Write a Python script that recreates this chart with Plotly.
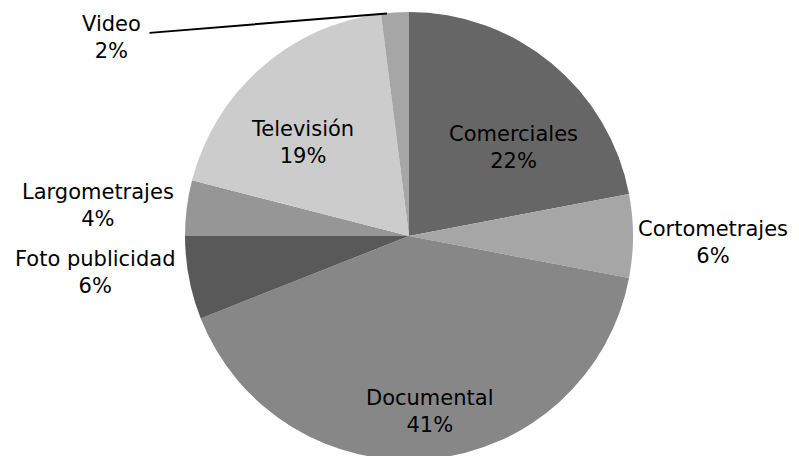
import math
import plotly.graph_objects as go

categories = ["Comerciales", "Cortometrajes", "Documental", "Foto publicidad",
              "Largometrajes", "Televisión", "Video"]
values = [22, 6, 41, 6, 4, 19, 2]
colors = ["#666666", "#a6a6a6", "#878787", "#595959", "#969696", "#cccccc", "#a6a6a6"]

W, H = 799, 456
OFF = 8  # page body margin: the figure is drawn 8px right/down in the window
# pie geometry in window pixels
cx, cy, r = 409, 236, 224

# label text positions (window pixels, centre of the text block)
label_pos = {
    "Comerciales": (513, 147),
    "Cortometrajes": (713, 242),
    "Documental": (430, 411),
    "Foto publicidad": (95, 272),
    "Largometrajes": (98, 205),
    "Televisión": (302, 142),
    "Video": (111, 38),
}


def fx(x):
    return (x - OFF) / W


def fy(y):
    return 1 - (y - OFF) / H


fig = go.Figure(go.Pie(
    labels=categories,
    values=values,
    marker=dict(colors=colors, line=dict(width=0)),
    sort=False,
    direction="clockwise",
    rotation=0,
    textinfo="none",
    hoverinfo="label+percent",
    showlegend=False,
    domain=dict(x=[fx(cx - r), fx(cx + r)], y=[fy(cy + r), fy(cy - r)]),
))

total = sum(values)
font = dict(family="DejaVu Sans", size=21, color="#000000")
for cat, v in zip(categories, values):
    px, py = label_pos[cat]
    pct = round(100 * v / total)
    fig.add_annotation(
        x=fx(px), y=fy(py), xref="paper", yref="paper",
        text=f"{cat}<br>{pct}%", showarrow=False, font=font,
        xanchor="center", yanchor="middle", align="center",
    )

# leader line for the small Video slice (from text to the slice edge)
cum = 0
for cat, v in zip(categories, values):
    if cat == "Video":
        mid = (cum + v / 2) / total * 2 * math.pi
        tipx = cx + r * math.sin(mid) - 8
        tipy = cy - r * math.cos(mid) + 1
        fig.add_annotation(
            x=fx(tipx), y=fy(tipy), xref="paper", yref="paper",
            ax=148 - tipx, ay=33 - tipy,
            text="", showarrow=True, arrowhead=0, arrowwidth=2, arrowcolor="#000000",
        )
    cum += v

fig.update_layout(
    width=W, height=H,
    margin=dict(l=0, r=0, t=0, b=0),
    paper_bgcolor="#ffffff", plot_bgcolor="#ffffff",
)

fig.write_html("out.html")
